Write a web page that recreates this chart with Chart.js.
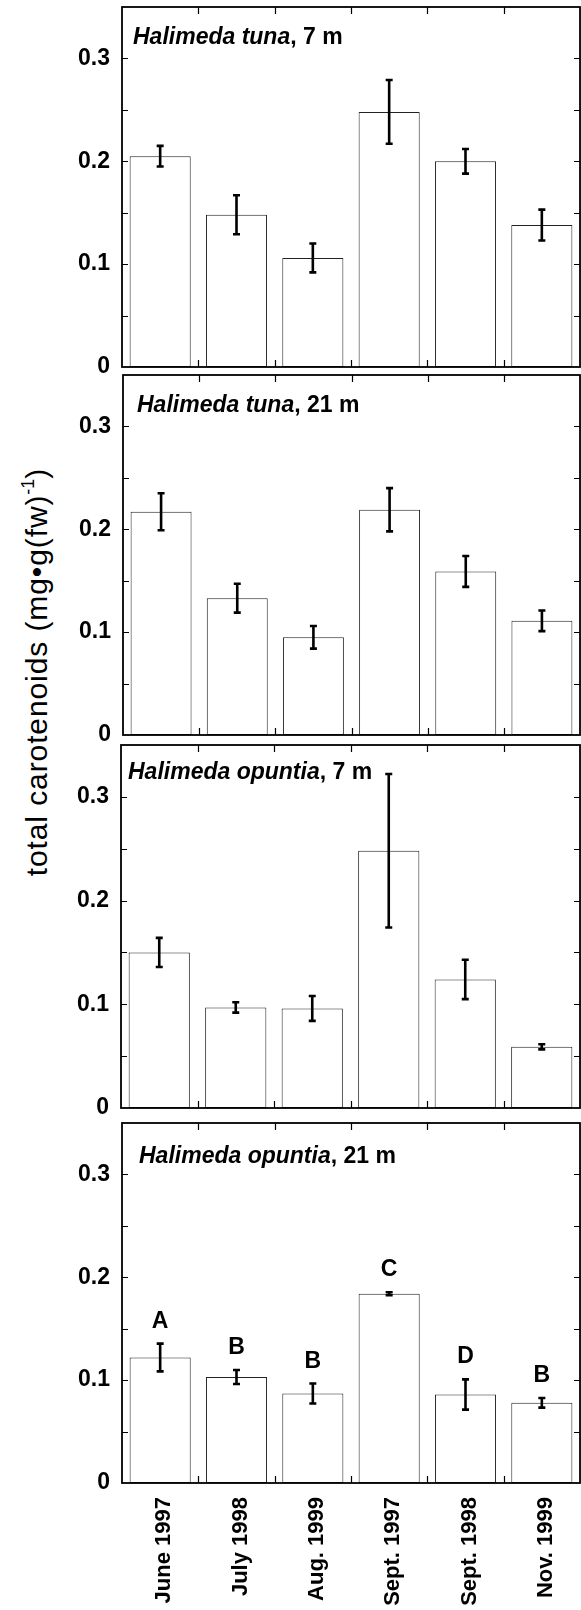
<!DOCTYPE html>
<html><head><meta charset="utf-8">
<script src="https://cdn.jsdelivr.net/npm/chart.js@4"></script>
<style>
html,body{margin:0;padding:0;background:#fff;}
#wrap{position:relative;width:581px;height:1610px;overflow:hidden;background:#fff;}
canvas{position:absolute;left:0;}
#ytitle{position:absolute;width:500px;height:40px;line-height:40px;text-align:center;
  font-family:'Liberation Sans',Arial,sans-serif;font-size:30px;color:#000;white-space:nowrap;
  letter-spacing:0.9px;transform:rotate(-90deg);left:-213.5px;top:652px;}
#ytitle sup{font-size:18px;vertical-align:0;position:relative;top:-13px;letter-spacing:0;}
</style></head><body>
<div id="wrap">
<div id="ytitle">total carotenoids (mg•g(fw)<sup>-1</sup>)</div>
</div>
<script>
// ---- data ----
const categories = ['June 1997', 'July 1998', 'Aug. 1999', 'Sept. 1997', 'Sept. 1998', 'Nov. 1999'];
const yTickValues = [0, 0.1, 0.2, 0.3];
const yTickLabels = ['0', '0.1', '0.2', '0.3'];
const tuna7Values   = [0.205, 0.148, 0.106, 0.248, 0.200, 0.138];
const tuna7Errors   = [0.010, 0.019, 0.014, 0.031, 0.012, 0.015];
const tuna21Values  = [0.217, 0.133, 0.095, 0.219, 0.159, 0.111];
const tuna21Errors  = [0.018, 0.014, 0.011, 0.021, 0.015, 0.010];
const opuntia7Values  = [0.150, 0.097, 0.096, 0.248, 0.124, 0.059];
const opuntia7Errors  = [0.014, 0.005, 0.012, 0.074, 0.019, 0.0025];
const opuntia21Values = [0.122, 0.103, 0.087, 0.184, 0.086, 0.078];
const opuntia21Errors = [0.0135, 0.0068, 0.0097, 0.0015, 0.0147, 0.0047];
const opuntia21Letters = ['A', 'B', 'B', 'C', 'D', 'B'];
const panelTitles = [['Halimeda tuna', ', 7 m'], ['Halimeda tuna', ', 21 m'], ['Halimeda opuntia', ', 7 m'], ['Halimeda opuntia', ', 21 m']];

const panelData = [
  {values: tuna7Values, errors: tuna7Errors, letters: null},
  {values: tuna21Values, errors: tuna21Errors, letters: null},
  {values: opuntia7Values, errors: opuntia7Errors, letters: null},
  {values: opuntia21Values, errors: opuntia21Errors, letters: opuntia21Letters},
];

// ---- layout (not data) ----
const boxes = [
  {top: 7,    bottom: 367,  left: 122, tx: 11, ty: 37},
  {top: 375,  bottom: 735,  left: 123, tx: 14, ty: 37},
  {top: 745,  bottom: 1108, left: 121, tx: 7,  ty: 34},
  {top: 1123, bottom: 1483, left: 122, tx: 17, ty: 40},
];
const RIGHT = 580, PADT = 3;
const FONT = "'Liberation Sans', Arial, Helvetica, sans-serif";

const wrap = document.getElementById('wrap');

boxes.forEach((b, i) => {
  const last = i === boxes.length - 1;
  const bottomExtra = last ? 1610 - b.bottom : 16;
  const H = PADT + (b.bottom - b.top) + bottomExtra;
  const cv = document.createElement('canvas');
  cv.width = 581; cv.height = H;
  cv.style.width = '581px'; cv.style.height = H + 'px';
  cv.style.top = (b.top - PADT) + 'px';
  wrap.appendChild(cv);
  const pd = panelData[i];

  const decor = {
    id: 'decor' + i,
    afterDatasetsDraw(chart) {
      const ctx = chart.ctx, ys = chart.scales.y;
      const meta = chart.getDatasetMeta(0);
      ctx.save();
      ctx.strokeStyle = '#000'; ctx.lineWidth = 2.6; ctx.lineCap = 'butt';
      pd.values.forEach((v, k) => {
        const x = meta.data[k].x;
        const e = pd.errors[k];
        const yt = ys.getPixelForValue(v + e), yb = ys.getPixelForValue(v - e);
        ctx.beginPath();
        ctx.moveTo(x, yt); ctx.lineTo(x, yb);
        ctx.moveTo(x - 3.5, yt); ctx.lineTo(x + 3.5, yt);
        ctx.moveTo(x - 3.5, yb); ctx.lineTo(x + 3.5, yb);
        ctx.stroke();
        if (pd.letters) {
          ctx.fillStyle = '#000';
          ctx.font = 'bold 23px ' + FONT;
          ctx.textAlign = 'center'; ctx.textBaseline = 'alphabetic';
          ctx.fillText(pd.letters[k], x, yt - 16);
        }
      });
      ctx.restore();
    },
    afterDraw(chart) {
      const ctx = chart.ctx, a = chart.chartArea, ys = chart.scales.y, xs = chart.scales.x;
      ctx.save();
      ctx.strokeStyle = '#000';
      ctx.lineWidth = 1.8;
      ctx.strokeRect(a.left, a.top, a.right - a.left, a.bottom - a.top);
      ctx.lineWidth = 1.2;
      ctx.beginPath();
      for (let v = 0.05; v < 0.349; v += 0.05) {
        const y = Math.round(ys.getPixelForValue(v)) + 0.5;
        ctx.moveTo(a.left, y); ctx.lineTo(a.left + 6, y);
        ctx.moveTo(a.right - 6, y); ctx.lineTo(a.right, y);
      }
      for (let k = 0; k < categories.length - 1; k++) {
        const x = Math.round((xs.getPixelForValue(k) + xs.getPixelForValue(k + 1)) / 2) + 0.5;
        ctx.moveTo(x, a.top); ctx.lineTo(x, a.top + 7);
        ctx.moveTo(x, a.bottom); ctx.lineTo(x, a.bottom - 7);
      }
      ctx.stroke();
      // panel title
      ctx.fillStyle = '#000';
      ctx.textAlign = 'left'; ctx.textBaseline = 'alphabetic';
      ctx.font = 'italic bold 23px ' + FONT;
      const t = panelTitles[i];
      const x0 = a.left + b.tx, y0 = a.top + b.ty;
      ctx.fillText(t[0], x0, y0);
      const w = ctx.measureText(t[0]).width;
      ctx.font = 'bold 23px ' + FONT;
      ctx.fillText(t[1], x0 + w, y0);
      ctx.restore();
    }
  };

  new Chart(cv, {
    type: 'bar',
    data: {
      labels: categories,
      datasets: [{
        data: pd.values,
        backgroundColor: '#ffffff',
        borderColor: '#222',
        borderWidth: 1,
        borderSkipped: false,
        barPercentage: 0.8,
        categoryPercentage: 1.0
      }]
    },
    options: {
      responsive: false,
      animation: false,
      devicePixelRatio: 1,
      layout: {padding: {top: PADT, left: 0, right: 581 - RIGHT, bottom: last ? 0 : bottomExtra}},
      plugins: {legend: {display: false}, tooltip: {enabled: false}},
      scales: {
        x: {
          offset: true,
          grid: {display: false, drawTicks: false},
          border: {display: false},
          ticks: {
            display: last,
            autoSkip: false,
            maxRotation: 90, minRotation: 90,
            padding: 14,
            labelOffset: 4,
            color: '#000',
            font: {family: FONT, size: 22, weight: 'bold'}
          },
          afterFit(s) { s.height = last ? bottomExtra : 0; s.paddingLeft = 0; s.paddingRight = 0; }
        },
        y: {
          min: 0, max: 0.35,
          grid: {display: false, drawTicks: false},
          border: {display: false},
          afterBuildTicks(s) { s.ticks = yTickValues.map(v => ({value: v})); },
          ticks: {
            padding: 12,
            color: '#000',
            font: {family: FONT, size: 23, weight: 'bold'},
            callback: (v, idx) => yTickLabels[idx]
          },
          afterFit(s) { s.width = b.left; s.paddingTop = 0; s.paddingBottom = 0; }
        }
      }
    },
    plugins: [decor]
  });
});
</script>
</body></html>
